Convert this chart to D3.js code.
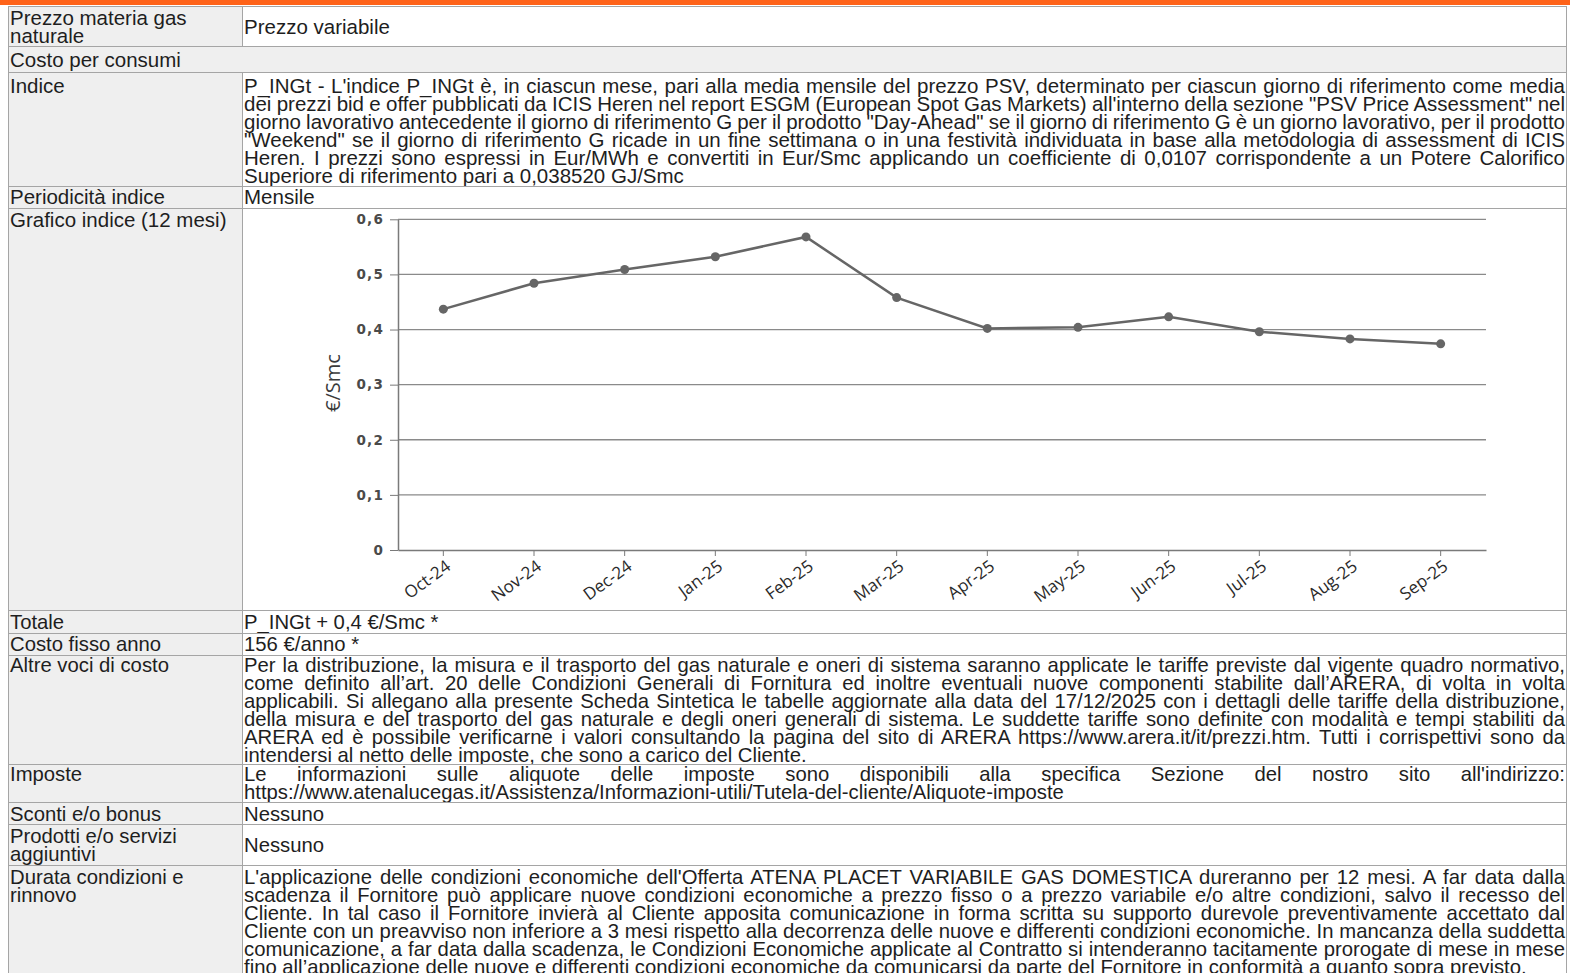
<!DOCTYPE html>
<html>
<head>
<meta charset="utf-8">
<script src="https://cdn.jsdelivr.net/npm/d3@7"></script>
<style>
body{margin:0;width:1570px;height:973px;overflow:hidden;background:#fff;
  font-family:"Liberation Sans",Arial,sans-serif;color:#1e1e1e;position:relative}
#bar{position:absolute;left:0;top:0;width:1570px;height:5px;background:#ff6319}
.cell{position:absolute;box-sizing:border-box;border:1px solid #a5a5a5;overflow:hidden;
  padding-left:1px;padding-right:1px;background:#fff}
.lab{background:#efefef}
.ln{white-space:nowrap;height:18px;line-height:18px}
.up{font-size:20.5px}
.lo{font-size:20.3px}
</style>
</head>
<body>
<div id="bar"></div>
<script>
// chart data
var months = ["Oct-24","Nov-24","Dec-24","Jan-25","Feb-25","Mar-25",
              "Apr-25","May-25","Jun-25","Jul-25","Aug-25","Sep-25"];
var values = [0.437,0.484,0.509,0.532,0.568,0.458,0.402,0.404,0.423,0.396,0.383,0.374];
var yTicks = [0,0.1,0.2,0.3,0.4,0.5,0.6];
var yLabel = "€/Smc";

// texts of the table
var indiceText = [
  "P_INGt - L'indice P_INGt è, in ciascun mese, pari alla media mensile del prezzo PSV, determinato per ciascun giorno di riferimento come media",
  "dei prezzi bid e offer pubblicati da ICIS Heren nel report ESGM (European Spot Gas Markets) all'interno della sezione \"PSV Price Assessment\" nel",
  "giorno lavorativo antecedente il giorno di riferimento G per il prodotto \"Day-Ahead\" se il giorno di riferimento G è un giorno lavorativo, per il prodotto",
  "\"Weekend\" se il giorno di riferimento G ricade in un fine settimana o in una festività individuata in base alla metodologia di assessment di ICIS",
  "Heren. I prezzi sono espressi in Eur/MWh e convertiti in Eur/Smc applicando un coefficiente di 0,0107 corrispondente a un Potere Calorifico",
  "Superiore di riferimento pari a 0,038520 GJ/Smc"
];
var altreText = [
  "Per la distribuzione, la misura e il trasporto del gas naturale e oneri di sistema saranno applicate le tariffe previste dal vigente quadro normativo,",
  "come definito all’art. 20 delle Condizioni Generali di Fornitura ed inoltre eventuali nuove componenti stabilite dall’ARERA, di volta in volta",
  "applicabili. Si allegano alla presente Scheda Sintetica le tabelle aggiornate alla data del 17/12/2025 con i dettagli delle tariffe della distribuzione,",
  "della misura e del trasporto del gas naturale e degli oneri generali di sistema. Le suddette tariffe sono definite con modalità e tempi stabiliti da",
  "ARERA ed è possibile verificarne i valori consultando la pagina del sito di ARERA https://www.arera.it/it/prezzi.htm. Tutti i corrispettivi sono da",
  "intendersi al netto delle imposte, che sono a carico del Cliente."
];
var imposteText = [
  "Le informazioni sulle aliquote delle imposte sono disponibili alla specifica Sezione del nostro sito all'indirizzo:",
  "https://www.atenalucegas.it/Assistenza/Informazioni-utili/Tutela-del-cliente/Aliquote-imposte"
];
var durataText = [
  "L'applicazione delle condizioni economiche dell'Offerta ATENA PLACET VARIABILE GAS DOMESTICA dureranno per 12 mesi. A far data dalla",
  "scadenza il Fornitore può applicare nuove condizioni economiche a prezzo fisso o a prezzo variabile e/o altre condizioni, salvo il recesso del",
  "Cliente. In tal caso il Fornitore invierà al Cliente apposita comunicazione in forma scritta su supporto durevole preventivamente accettato dal",
  "Cliente con un preavviso non inferiore a 3 mesi rispetto alla decorrenza delle nuove e differenti condizioni economiche. In mancanza della suddetta",
  "comunicazione, a far data dalla scadenza, le Condizioni Economiche applicate al Contratto si intenderanno tacitamente prorogate di mese in mese",
  "fino all’applicazione delle nuove e differenti condizioni economiche da comunicarsi da parte del Fornitore in conformità a quanto sopra previsto."
];

// table layout
var rows = [
  {top:6,   label:["Prezzo materia gas","naturale"], value:["Prezzo variabile"], pad:2, mid:true},
  {top:46,  full:["Costo per consumi"], pad:4},
  {top:72,  label:["Indice"], value:indiceText, pad:4, just:true},
  {top:186, label:["Periodicità indice"], value:["Mensile"], pad:1},
  {top:208, label:["Grafico indice (12 mesi)"], chart:true, pad:2},
  {top:610, label:["Totale"], value:["P_INGt + 0,4 €/Smc *"], pad:2, lo:true},
  {top:633, label:["Costo fisso anno"], value:["156 €/anno *"], pad:1, lo:true},
  {top:655, label:["Altre voci di costo"], value:altreText, pad:0, just:true, lo:true},
  {top:764, label:["Imposte"], value:imposteText, pad:0, just:true, lo:true},
  {top:802, label:["Sconti e/o bonus"], value:["Nessuno"], pad:2, lo:true},
  {top:824, label:["Prodotti e/o servizi","aggiuntivi"], value:["Nessuno"], pad:2, mid:true, lo:true},
  {top:865, label:["Durata condizioni e","rinnovo"], value:durataText, pad:2, just:true, lo:true}
];
var tableLeft = 8, colSplit = 242, tableRight = 1566, tableEnd = 990;

var body = d3.select("body");

function fillLines(sel, lines, just, width) {
  lines.forEach(function(t, i) {
    var s = sel.append("div").attr("class", "ln").append("span").text(t);
    if (just && i < lines.length - 1) {
      var w = s.node().getBoundingClientRect().width;
      var n = (t.match(/ /g) || []).length;
      if (n) s.style("word-spacing", ((width - w) / n) + "px");
    }
  });
}

var chartCell;
rows.forEach(function(r, i) {
  var bottom = i < rows.length - 1 ? rows[i + 1].top : tableEnd;
  var h = bottom - r.top + 1;
  var cls = r.lo ? "lo" : "up";
  if (r.full) {
    var c = body.append("div").attr("class", "cell lab " + cls)
      .style("left", tableLeft + "px").style("top", r.top + "px")
      .style("width", (tableRight - tableLeft + 1) + "px").style("height", h + "px")
      .style("padding-top", r.pad + "px");
    fillLines(c, r.full, false, 0);
    return;
  }
  var l = body.append("div").attr("class", "cell lab " + cls)
    .style("left", tableLeft + "px").style("top", r.top + "px")
    .style("width", (colSplit - tableLeft + 1) + "px").style("height", h + "px")
    .style("padding-top", r.pad + "px");
  fillLines(l, r.label, false, 0);
  var v = body.append("div").attr("class", "cell " + cls)
    .style("left", colSplit + "px").style("top", r.top + "px")
    .style("width", (tableRight - colSplit + 1) + "px").style("height", h + "px");
  if (r.chart) { chartCell = v; return; }
  var vp = r.mid ? (h - 2 - 18 * r.value.length) / 2 : r.pad;
  v.style("padding-top", vp + "px");
  fillLines(v, r.value, r.just, tableRight - colSplit + 1 - 4);
});

// chart
var chartW = tableRight - colSplit - 1, chartH = 400;
var margins = {top:10.3, left:155, right:chartW - 1243, bottom:chartH - 341};
var width = chartW - margins.left - margins.right;
var height = chartH - margins.top - margins.bottom;

var svg = chartCell.append("svg")
  .attr("width", chartW).attr("height", chartH)
  .style("position", "absolute").style("left", 0).style("top", 0);

var xScale = d3.scaleBand().domain(months).range([0, width]);
var yScale = d3.scaleLinear().domain([0, 0.6]).range([height, 0]);

var it = d3.formatLocale({decimal:",", thousands:".", grouping:[3], currency:["€",""]});
var fmt = it.format(".1~f");

var plot = svg.append("g")
  .attr("transform", "translate(" + margins.left + "," + margins.top + ")");

plot.selectAll(".grid")
  .data(yTicks.filter(function(d) { return d > 0; }))
  .enter().append("line")
  .attr("class", "grid")
  .attr("x1", 0).attr("x2", width)
  .attr("y1", function(d) { return yScale(d); })
  .attr("y2", function(d) { return yScale(d); })
  .attr("stroke", "#8a8a8a").attr("stroke-width", 1.3);

var yAxis = d3.axisLeft(yScale).tickValues(yTicks).tickFormat(fmt)
  .tickSize(8).tickSizeOuter(0).tickPadding(6);
var gy = plot.append("g").call(yAxis);
gy.select(".domain").attr("stroke", "#7a7a7a").attr("stroke-width", 1.5);
gy.selectAll(".tick line").attr("stroke", "#7a7a7a");
gy.selectAll("text").attr("fill", "#4a4a4a")
  .style("font-family", "'DejaVu Sans'").style("font-size", "13.5px")
  .style("font-weight", "bold").style("letter-spacing", "1.2px");

var xAxis = d3.axisBottom(xScale).tickSize(6).tickSizeOuter(0);
var gx = plot.append("g").attr("transform", "translate(0," + height + ")").call(xAxis);
gx.select(".domain").attr("stroke", "#7a7a7a").attr("stroke-width", 1.5);
gx.selectAll(".tick line").attr("stroke", "#7a7a7a");
gx.selectAll("text")
  .attr("fill", "#2a2a2a")
  .style("font-family", "'Open Sans'").style("font-size", "17px")
  .attr("text-anchor", "end")
  .attr("x", 0).attr("y", 0).attr("dy", "0.35em")
  .attr("transform", "translate(5,14) rotate(-36)");

svg.append("text")
  .attr("transform", "translate(" + (333 - 243) + "," + (383 - 209) + ") rotate(-90)")
  .attr("text-anchor", "middle").attr("dy", "0.35em")
  .attr("fill", "#3a3a3a")
  .style("font-family", "'Open Sans'").style("font-size", "20px")
  .text(yLabel);

var line = d3.line()
  .x(function(d, i) { return xScale(months[i]) + xScale.bandwidth() / 2; })
  .y(function(d) { return yScale(d); });

plot.append("path").datum(values)
  .attr("d", line).attr("fill", "none")
  .attr("stroke", "#666").attr("stroke-width", 2.5);

plot.selectAll(".pt").data(values).enter().append("circle")
  .attr("class", "pt")
  .attr("cx", function(d, i) { return xScale(months[i]) + xScale.bandwidth() / 2; })
  .attr("cy", function(d) { return yScale(d); })
  .attr("r", 4.5).attr("fill", "#666");
</script>
</body>
</html>
